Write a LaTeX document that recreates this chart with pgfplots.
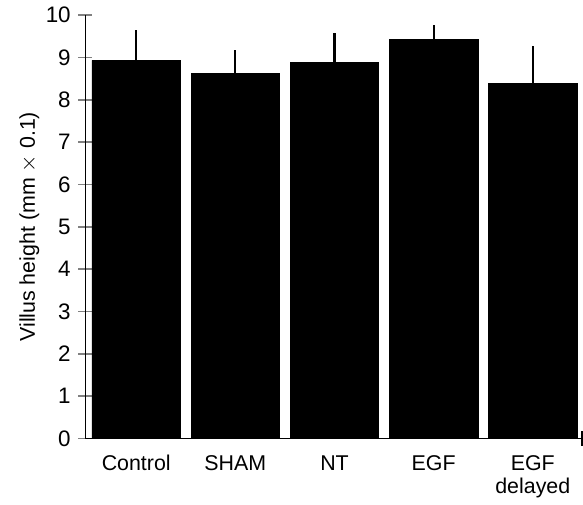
\documentclass[border=0pt]{standalone}
\usepackage{fontspec}
\setmainfont{Liberation Sans}
\usepackage{pgfplots}
\pgfplotsset{compat=1.18}

\pgfplotstableread{
x  y     err
0  8.93  0.71
1  8.63  0.54
2  8.89  0.69
3  9.43  0.33
4  8.38  0.89
}\villus

\begin{document}
\fontsize{10.5}{12.5}\selectfont
\begin{tikzpicture}
\begin{axis}[
  scale only axis,
  width=244pt, height=208pt,
  ybar, bar width=43.5pt, bar shift=0pt,
  xmin=-0.513, xmax=4.498,
  ymin=0, ymax=10,
  ytick={0,1,...,10},
  xtick={0,1,2,3,4},
  xticklabels={\strut Control,\strut SHAM,\strut NT,\strut EGF,\strut EGF\\delayed},
  xticklabel style={align=center, yshift=-1pt, font=\fontsize{10.5}{11}\selectfont},
  axis x line=bottom, axis y line=left,
  axis line style={-, line width=0.8pt},
  x tick style={draw=none},
  tick align=center, major tick length=7pt,
  y tick style={line width=0.8pt},
  ylabel={Villus height (mm $\times$ 0.1)},
  ylabel style={yshift=-4pt},
  /pgf/number format/assume math mode=true,
  tick label style={font=\fontsize{10.5}{11}\selectfont},
  yticklabel style={font=\fontsize{11}{12}\selectfont},
  label style={font=\fontsize{10.5}{12.5}\selectfont},
  clip=false,
]
\addplot[fill=black, draw=black,
  error bars/.cd, y dir=plus, y explicit, error mark=none,
  error bar style={line width=1pt, black}]
  table[x=x, y=y, y error=err] {\villus};
\draw[line width=0.8pt] ([yshift=-3.5pt]rel axis cs:1,0) -- ([yshift=3.5pt]rel axis cs:1,0);
\end{axis}
\path ([xshift=-6pt]current bounding box.south west) rectangle (current bounding box.north east);
\end{tikzpicture}
\end{document}
